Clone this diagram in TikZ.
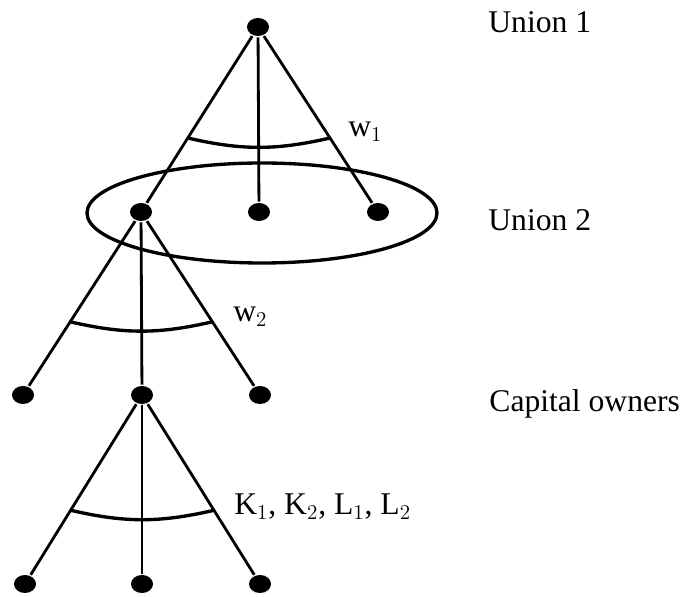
\documentclass[tikz,border=0pt]{standalone}
\usepackage{fontspec}
\setmainfont{Liberation Serif}
\usetikzlibrary{shapes.geometric,calc}

\begin{document}
\begin{tikzpicture}[x=0.02cm,y=-0.02cm,line width=1.6pt,
  agent/.style={ellipse,fill=black,inner sep=0pt,minimum width=0.44cm,minimum height=0.36cm},
  tag/.style={anchor=base west,inner sep=0pt,font=\fontsize{18}{22}\selectfont}]
\useasboundingbox (0,0) rectangle (690,597);
% union 1
\node[agent] (top) at (258,27) {};
% union 2
\node[agent] (ua) at (141,212) {};
\node[agent] (ub) at (259,212) {};
\node[agent] (uc) at (378,212) {};
% capital owners
\node[agent] (ka) at (23,395) {};
\node[agent] (kb) at (142,395) {};
\node[agent] (kc) at (260,395) {};
\node[agent] (la) at (25,584) {};
\node[agent] (lb) at (142,584) {};
\node[agent] (lc) at (260,584) {};

\draw (top) -- (ua);
\draw (top) -- (ub);
\draw (top) -- (uc);
\draw (ua) -- (ka);
\draw (ua) -- (kb);
\draw (ua) -- (kc);
\draw (kb) -- (la);
\draw (kb) -- (lb);
\draw (kb) -- (lc);
\draw[line width=1.9pt] (262,213) ellipse [x radius=175,y radius=50];

% weight arcs
\draw[line width=1.9pt] ($(top)!0.6!(ua)$) to[bend right=13] ($(top)!0.6!(uc)$);
\draw[line width=1.9pt] ($(ua)!0.6!(ka)$) to[bend right=13] ($(ua)!0.6!(kc)$);
\draw[line width=1.9pt] ($(kb)!0.61!(la)$) to[bend right=13] ($(kb)!0.61!(lc)$);

\node[tag] (w1) at (347,137) {w$_1$};
\node[tag] (w2) at (232,322) {w$_2$};
\node[tag] (kl) at (233,515) {K$_1$, K$_2$, L$_1$, L$_2$};
\node[tag] (t1) at (487,33) {Union 1};
\node[tag] (t2) at (487,231) {Union 2};
\node[tag] (t3) at (488,412) {Capital owners};
\end{tikzpicture}
\end{document}
